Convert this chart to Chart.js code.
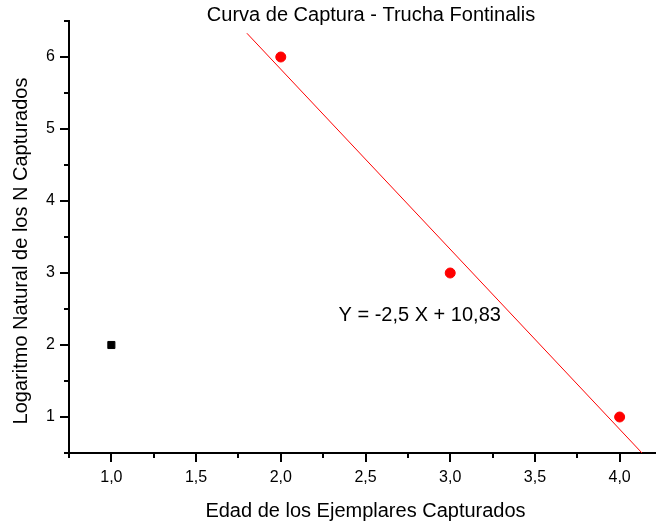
<!DOCTYPE html>
<html>
<head>
<meta charset="utf-8">
<script src="https://cdn.jsdelivr.net/npm/chart.js@4/dist/chart.umd.min.js"></script>
<style>
    html, body { margin: 0; padding: 0; background: #fff; overflow: hidden; }
    #wrap { width: 656px; height: 529px; overflow: hidden; }
</style>
</head>
<body>
<div id="wrap"><canvas id="chart" width="680" height="529"></canvas></div>
<script>
// datos
const edad = [2, 3, 4]
const lnN = [6, 3, 1]
const edadExcluida = [1]
const lnNExcluido = [2]
const ajusteX = [1.8, 4.2]
const ajusteY = [6.33, 0.33]

const xTicks = [1, 1.5, 2, 2.5, 3, 3.5, 4]
const xMinor = [0.75, 1.25, 1.75, 2.25, 2.75, 3.25, 3.75, 4.25]
const yTicks = [1, 2, 3, 4, 5, 6]
const yMinor = [0.5, 1.5, 2.5, 3.5, 4.5, 5.5, 6.5]

const titulo = 'Curva de Captura - Trucha Fontinalis'
const tituloX = 'Edad de los Ejemplares Capturados'
const tituloY = 'Logaritmo Natural de los N Capturados'
const ecuacion = 'Y = -2,5 X + 10,83'

const fuente = "'Liberation Sans', Arial, sans-serif"
Chart.defaults.font.family = fuente
Chart.defaults.color = '#000'

const toPoints = (xs, ys) => xs.map((x, i) => ({ x: x, y: ys[i] }))
const coma = (v) => v.toFixed(1).replace('.', ',')

// marcas menores y textos sueltos
const extras = {
    id: 'extras',
    afterDraw(chart) {
        const ctx = chart.ctx
        const x = chart.scales.x
        const y = chart.scales.y
        const area = chart.chartArea
        ctx.save()
        ctx.strokeStyle = '#000'
        ctx.lineWidth = 2
        ctx.beginPath()
        xMinor.forEach((v) => {
            const px = Math.round(x.getPixelForValue(v))
            ctx.moveTo(px, area.bottom)
            ctx.lineTo(px, area.bottom + 5)
        })
        yMinor.forEach((v) => {
            const py = Math.round(y.getPixelForValue(v))
            ctx.moveTo(area.left - 5, py)
            ctx.lineTo(area.left, py)
        })
        ctx.stroke()

        ctx.fillStyle = '#000'
        ctx.font = '20px ' + fuente
        ctx.textAlign = 'center'
        ctx.textBaseline = 'middle'
        ctx.fillText(titulo, 371, 15)
        ctx.fillText(ecuacion, x.getPixelForValue(2.82), y.getPixelForValue(2.41))

        ctx.translate(21.5, 251)
        ctx.rotate(-Math.PI / 2)
        ctx.fillText(tituloY, 0, 0)
        ctx.restore()
    },
}

const ctx = document.getElementById('chart').getContext('2d')
new Chart(ctx, {
    type: 'scatter',
    data: {
        datasets: [
            {
                data: toPoints(edad, lnN),
                pointStyle: 'circle',
                pointRadius: 5,
                backgroundColor: '#ff0000',
                borderColor: '#ff0000',
                borderWidth: 1,
            },
            {
                data: toPoints(edadExcluida, lnNExcluido),
                pointStyle: 'rect',
                pointRadius: 5,
                backgroundColor: '#000',
                borderColor: '#000',
                borderWidth: 1,
            },
            {
                type: 'line',
                data: toPoints(ajusteX, ajusteY),
                borderColor: '#ff0000',
                borderWidth: 1,
                pointRadius: 0,
                fill: false,
            },
        ],
    },
    options: {
        responsive: false,
        animation: false,
        layout: {
            padding: { top: 21, left: 0, right: 18, bottom: 0 },
        },
        plugins: {
            legend: { display: false },
            tooltip: { enabled: false },
        },
        scales: {
            x: {
                type: 'linear',
                min: 0.75,
                max: 4.25,
                afterBuildTicks: (scale) => {
                    scale.ticks = xTicks.map((v) => ({ value: v }))
                },
                afterFit: (scale) => {
                    scale.height = 76
                },
                ticks: {
                    callback: (v) => coma(v),
                    font: { size: 16 },
                    padding: 6,
                    maxRotation: 0,
                },
                grid: {
                    drawOnChartArea: false,
                    drawTicks: true,
                    tickLength: 9,
                    color: '#000',
                    lineWidth: 2,
                },
                border: { display: true, color: '#000', width: 2 },
                title: {
                    display: true,
                    text: tituloX,
                    font: { size: 20 },
                    padding: { top: 0, bottom: 6 },
                },
            },
            y: {
                type: 'linear',
                min: 0.5,
                max: 6.5,
                afterBuildTicks: (scale) => {
                    scale.ticks = yTicks.map((v) => ({ value: v }))
                },
                afterFit: (scale) => {
                    scale.width = 69
                },
                ticks: {
                    callback: (v) => String(v),
                    font: { size: 16 },
                    padding: 5,
                },
                grid: {
                    drawOnChartArea: false,
                    drawTicks: true,
                    tickLength: 9,
                    color: '#000',
                    lineWidth: 2,
                },
                border: { display: true, color: '#000', width: 2 },
            },
        },
    },
    plugins: [extras],
})
</script>
</body>
</html>
